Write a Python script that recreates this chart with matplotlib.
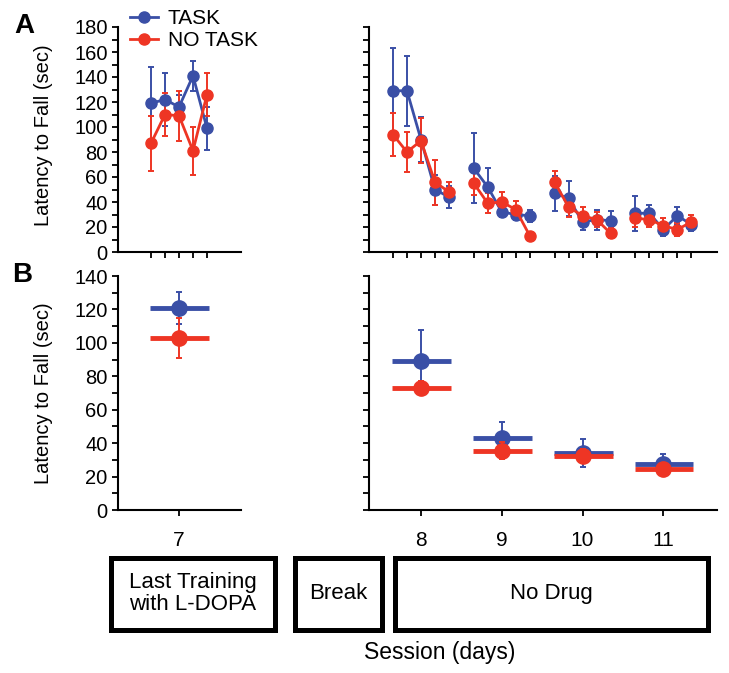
import matplotlib
matplotlib.use("Agg")
import matplotlib.pyplot as plt
import numpy as np
from matplotlib.lines import Line2D
from matplotlib.patches import Rectangle
from matplotlib.ticker import MultipleLocator, NullFormatter

plt.rcParams['font.family'] = ['Liberation Sans', 'DejaVu Sans']

# ---- data ----
sessions = [7, 8, 9, 10, 11]

# panel A, last training day (session 7), 5 trials
task_train = [119, 122, 116, 141, 99]
task_train_err = [29, 21, 10, 12, 17]
notask_train = [87, 110, 109, 81, 126]
notask_train_err = [22, 17, 20, 19, 17]

# panel A, no drug days (sessions 8-11), 5 trials each
task_d8 = [129, 129, 90, 50, 44]
task_d9 = [67, 52, 32, 30, 29]
task_d10 = [47, 43, 24, 26, 25]
task_d11 = [31, 31, 18, 29, 22]
task_d8_err = [34, 28, 18, 12, 9]
task_d9_err = [28, 15, 4, 4, 5]
task_d10_err = [14, 14, 6, 8, 8]
task_d11_err = [14, 7, 5, 7, 5]

notask_d8 = [94, 80, 89, 56, 48]
notask_d9 = [55, 39, 40, 34, 13]
notask_d10 = [56, 36, 29, 26, 15]
notask_d11 = [27, 26, 21, 18, 24]
notask_d8_err = [17, 16, 18, 18, 8]
notask_d9_err = [9, 8, 8, 7, 0]
notask_d10_err = [9, 8, 7, 6, 4]
notask_d11_err = [7, 6, 6, 5, 6]

# panel B, session means
task_mean = [121, 89, 43, 34, 27.5]
task_sem = [9.7, 18.5, 9.4, 8.5, 5.8]
notask_mean = [103, 73, 35.5, 32.5, 24.3]
notask_sem = [12, 4, 5, 4, 4]

BLUE = '#3a4fa6'
RED = '#ee3524'

W, H = 729, 673
fig = plt.figure(figsize=(W / 100, H / 100), dpi=100)


def px_axes(l, t, r, b):
    return fig.add_axes([l / W, 1 - b / H, (r - l) / W, (b - t) / H])


def style(ax, ymax, labels=True):
    for s in ['top', 'right']:
        ax.spines[s].set_visible(False)
    for s in ['left', 'bottom']:
        ax.spines[s].set_linewidth(1.5)
    ax.set_ylim(0, ymax)
    ax.yaxis.set_major_locator(MultipleLocator(20))
    ax.yaxis.set_minor_locator(MultipleLocator(10))
    ax.tick_params(axis='both', which='both', direction='out', length=4,
                   width=1.3, labelsize=14.5)
    ax.tick_params(axis='x', pad=11, labelsize=15)
    if not labels:
        ax.yaxis.set_major_formatter(NullFormatter())


trial = np.arange(5)
gap = 5.77
right_x = [g * gap + trial for g in range(4)]

task_days = [task_d8, task_d9, task_d10, task_d11]
task_days_err = [task_d8_err, task_d9_err, task_d10_err, task_d11_err]
notask_days = [notask_d8, notask_d9, notask_d10, notask_d11]
notask_days_err = [notask_d8_err, notask_d9_err, notask_d10_err, notask_d11_err]

ekw = dict(marker='o', ms=8, lw=2, elinewidth=1.4, capsize=2.5, capthick=1.4)

# ---- panel A ----
axA1 = px_axes(118, 27, 241, 252)
axA2 = px_axes(369, 27, 717, 252)
axA1.errorbar(trial, task_train, yerr=task_train_err, color=BLUE, **ekw)
axA1.errorbar(trial, notask_train, yerr=notask_train_err, color=RED, **ekw)
for x, v, e in zip(right_x, task_days, task_days_err):
    axA2.errorbar(x, v, yerr=e, color=BLUE, **ekw)
for x, v, e in zip(right_x, notask_days, notask_days_err):
    axA2.errorbar(x, v, yerr=e, color=RED, **ekw)

style(axA1, 180)
style(axA2, 180, labels=False)
axA1.set_xlim(-2.36, 6.43)
axA2.set_xlim(-1.71, 23.14)
axA1.set_xticks(trial)
axA2.set_xticks(np.concatenate(right_x))
axA1.set_xticklabels([])
axA2.set_xticklabels([])
axA1.set_ylabel('Latency to Fall (sec)', fontsize=14.5)
axA1.yaxis.set_label_coords(-0.53, 0.52)

# ---- panel B ----
axB1 = px_axes(118, 276, 241, 510)
axB2 = px_axes(369, 276, 717, 510)
centers = [trial.mean()] + [x.mean() for x in right_x]
spans = [trial] + right_x
bkw = dict(fmt='none', elinewidth=1.4, capsize=2.5, capthick=1.4)
for i, (c, sp) in enumerate(zip(centers, spans)):
    ax = axB1 if i == 0 else axB2
    for mean, sem, col in [(task_mean[i], task_sem[i], BLUE),
                           (notask_mean[i], notask_sem[i], RED)]:
        ax.errorbar(c, mean, yerr=sem, ecolor=col, **bkw)
        ax.hlines(mean, sp[0] - 0.05, sp[-1] + 0.15, color=col, lw=3.5,
                  capstyle='butt')
        ax.plot(c, mean, 'o', color=col, ms=11)

style(axB1, 140)
style(axB2, 140, labels=False)
axB1.set_xlim(-2.36, 6.43)
axB2.set_xlim(-1.71, 23.14)
axB1.set_xticks([centers[0]])
axB1.set_xticklabels([str(sessions[0])])
axB2.set_xticks(centers[1:])
axB2.set_xticklabels([str(s) for s in sessions[1:]])
axB1.set_ylabel('Latency to Fall (sec)', fontsize=14.5)
axB1.yaxis.set_label_coords(-0.53, 0.5)

# ---- legend ----
handles = [Line2D([], [], color=BLUE, marker='o', ms=8, lw=2),
           Line2D([], [], color=RED, marker='o', ms=8, lw=2)]
fig.legend(handles, ['TASK', 'NO TASK'], loc='upper left',
           bbox_to_anchor=(130 / W, 1 - 9 / H), frameon=False, borderpad=0,
           borderaxespad=0, handlelength=1.35, handletextpad=0.45,
           labelspacing=0.15, fontsize=15)

# ---- panel letters ----
fig.text(14 / W, 1 - 33 / H, 'A', fontsize=20, fontweight='bold')
fig.text(12 / W, 1 - 282 / H, 'B', fontsize=20, fontweight='bold')

# ---- condition boxes ----
boxes = [(108, 277, 'Last Training\nwith L-DOPA'),
         (292, 384, 'Break'),
         (392, 710, 'No Drug')]
top, bot = 555, 632
for l, r, txt in boxes:
    fig.patches.append(Rectangle(((l + 2.5) / W, 1 - (bot - 2.5) / H),
                                 (r - l - 5) / W, (bot - top - 5) / H,
                                 transform=fig.transFigure, fill=False,
                                 lw=3.6, ec='black'))
    fig.text((l + r) / 2 / W, 1 - (top + bot) / 2 / H, txt, ha='center',
             va='center', fontsize=16, linespacing=1.1)

fig.text(440 / W, 1 - 652 / H, 'Session (days)', ha='center', va='center',
         fontsize=16.5)

fig.savefig('out.png', dpi=100)
